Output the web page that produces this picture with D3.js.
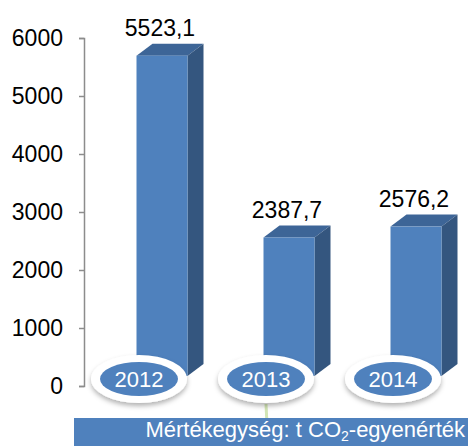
<!DOCTYPE html>
<html>
<head>
<meta charset="utf-8">
<script src="https://cdn.jsdelivr.net/npm/d3@7"></script>
<style>
  body { margin: 0; background: #fff; }
  svg { display: block; font-family: "Liberation Sans", Arial, sans-serif; }
</style>
</head>
<body>
<svg id="chart"></svg>
<script>
// Adatok
const years = ['2012', '2013', '2014'];
const values = [5523.1, 2387.7, 2576.2];
const yTicks = [0, 1000, 2000, 3000, 4000, 5000, 6000];
const unitText = ['Mértékegység: t CO', '2', '-egyenérték'];

const width = 468;
const height = 446;

const svg = d3.select('#chart').attr('width', width).attr('height', height);

// árnyék az ellipszisekhez
const defs = svg.append('defs');
defs.append('filter').attr('id', 'shadow')
  .attr('x', '-30%').attr('y', '-30%').attr('width', '160%').attr('height', '180%')
  .append('feDropShadow')
  .attr('dx', 0).attr('dy', 3).attr('stdDeviation', 2.5)
  .attr('flood-color', '#000').attr('flood-opacity', 0.3);

const hu = d3.formatLocale({decimal: ',', thousands: ' ', grouping: [3], currency: ['', ' Ft']});
const fmt = hu.format('.1f');

// skálák
const y = d3.scaleLinear().domain([0, 6000]).range([386, 38]);
const x = d3.scalePoint().domain(years).range([162, 416]);

const barW = 51;
const depthX = 16;
const depthY = 12;
const lift = 10;

// halvány díszítés a háttérben
svg.append('line')
  .attr('x1', 266).attr('y1', 404).attr('x2', 268).attr('y2', height)
  .attr('stroke', '#d3e6b5').attr('stroke-width', 3);

// y tengely
const yAxis = svg.append('g')
  .attr('transform', 'translate(84,0)')
  .call(d3.axisLeft(y).tickValues(yTicks).tickFormat(d3.format('d')).tickSize(5).tickPadding(16));
yAxis.select('.domain').attr('stroke', '#8c8c8c').attr('stroke-width', 1.5);
yAxis.selectAll('.tick line').attr('stroke', '#8c8c8c').attr('stroke-width', 1.5);
yAxis.selectAll('.tick text')
  .attr('font-size', 23).attr('fill', '#000')
  .attr('font-family', '"Liberation Sans", Arial, sans-serif');

// 3D oszlopok
const bars = svg.append('g').selectAll('g').data(years).enter().append('g');

bars.each(function(d, i) {
  const g = d3.select(this);
  const left = x(d) - barW / 2;
  const right = left + barW;
  const top = y(values[i]) - lift;
  const bottom = y(0) - lift;

  // teteje
  g.append('path')
    .attr('d', `M${left},${top} L${left + depthX},${top - depthY} L${right + depthX},${top - depthY} L${right},${top} Z`)
    .attr('fill', '#3d6597');
  // oldala
  g.append('path')
    .attr('d', `M${right},${top} L${right + depthX},${top - depthY} L${right + depthX},${bottom - depthY} L${right},${bottom} Z`)
    .attr('fill', '#34567f');
  // eleje
  g.append('rect')
    .attr('x', left).attr('y', top)
    .attr('width', barW).attr('height', bottom - top)
    .attr('fill', '#4f81bd');

  // érték felirat
  g.append('text')
    .attr('x', x(d) - 2)
    .attr('y', top - depthY - 8)
    .attr('text-anchor', 'middle')
    .attr('font-size', 23)
    .attr('fill', '#000')
    .text(fmt(values[i]));
});

// év ellipszisek
const badges = svg.append('g').selectAll('g').data(years).enter().append('g')
  .attr('transform', d => `translate(${x(d) - 23},379)`);

badges.append('ellipse')
  .attr('rx', 48).attr('ry', 24)
  .attr('fill', '#fff')
  .attr('filter', 'url(#shadow)');
badges.append('ellipse')
  .attr('rx', 39).attr('ry', 17)
  .attr('fill', '#4f81bd');
badges.append('text')
  .attr('y', 8)
  .attr('text-anchor', 'middle')
  .attr('font-size', 22)
  .attr('fill', '#fff')
  .text(d => d);

// mértékegység sáv
svg.append('rect')
  .attr('x', 74).attr('y', 418)
  .attr('width', width - 74).attr('height', height - 418)
  .attr('fill', '#4f81bd');

const unit = svg.append('text')
  .attr('x', 465).attr('y', 437)
  .attr('text-anchor', 'end')
  .attr('font-size', 22)
  .attr('fill', '#fff');
unit.append('tspan').text(unitText[0]);
unit.append('tspan').attr('font-size', 14).attr('dy', 4).text(unitText[1]);
unit.append('tspan').attr('dy', -4).text(unitText[2]);
</script>
</body>
</html>
